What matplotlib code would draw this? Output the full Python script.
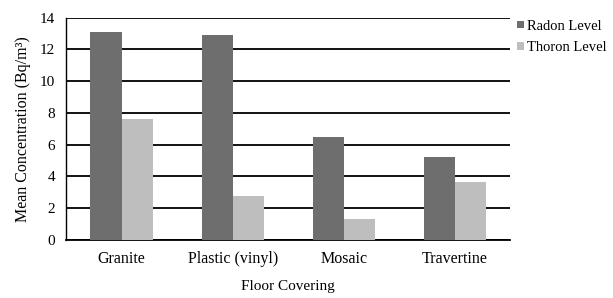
import numpy as np
import matplotlib.pyplot as plt

categories = ["Granite", "Plastic (vinyl)", "Mosaic", "Travertine"]
radon = [13.1, 12.9, 6.5, 5.25]
thoron = [7.6, 2.75, 1.3, 3.65]

plt.rcParams["font.family"] = ["Liberation Serif", "DejaVu Serif"]

fig = plt.figure(figsize=(6.13, 2.98), dpi=100)
ax = fig.add_axes([0.1077, 0.195, 0.725, 0.746])

x = np.arange(len(categories))
w = 0.28
ax.bar(x - w / 2, radon, w, color="#6e6e6e", label="Radon Level", zorder=3)
ax.bar(x + w / 2, thoron, w, color="#bebebe", label="Thoron Level", zorder=3)

ax.set_xlim(-0.5, 3.5)
ax.set_ylim(0, 14)
ax.set_yticks(range(0, 15, 2))
ax.set_xticks(x)
ax.set_xticklabels(categories)
ax.yaxis.grid(True, color="black", linewidth=1.3, zorder=0)
ax.set_axisbelow(True)
for s in ["top", "right"]:
    ax.spines[s].set_visible(False)
ax.spines["left"].set_linewidth(1.0)
ax.spines["bottom"].set_linewidth(1.3)
ax.tick_params(axis="y", length=0, labelsize=11, pad=8)
ax.tick_params(axis="x", length=0, labelsize=11.5, pad=8)

ax.set_ylabel("Mean Concentration (Bq/m³)", fontsize=11.5, labelpad=6)
ax.set_xlabel("Floor Covering", fontsize=11, labelpad=9)

ax.legend(loc="upper left", bbox_to_anchor=(0.995, 1.03), frameon=False,
          fontsize=10.5, handlelength=0.45, handleheight=0.45, handletextpad=0.25,
          labelspacing=0.6, borderaxespad=0.2)

fig.savefig("out.png", dpi=100)
